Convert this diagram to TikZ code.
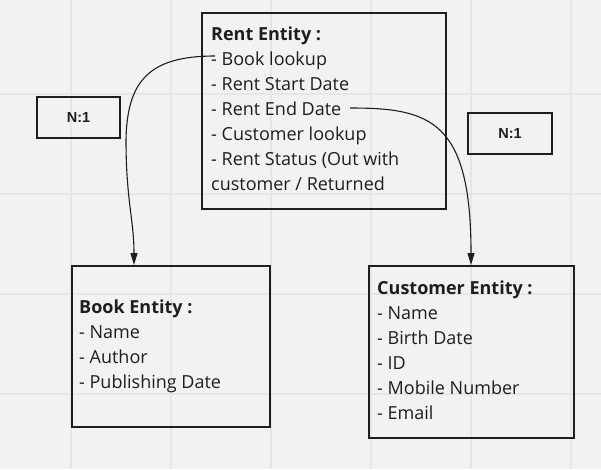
\documentclass[tikz,border=0pt]{standalone}
\usepackage{fontspec}
\setmainfont{Open Sans}
\newfontfamily\labelfont{Liberation Sans}
\usetikzlibrary{arrows.meta}
\definecolor{bgc}{HTML}{F2F2F2}
\definecolor{gridc}{HTML}{E6E6E6}
\definecolor{ink}{HTML}{1E1E1E}
\tikzset{
  entity/.style={draw=ink, line width=2pt, fill=none, inner sep=0pt, anchor=north west},
  cardbox/.style={draw=ink, line width=2pt, inner sep=0pt, anchor=north west},
  cardtext/.style={font=\labelfont\bfseries\fontsize{14.5}{16}\selectfont, text=ink, inner sep=0pt},
  body/.style={anchor=base west, inner sep=0pt, text=ink, font=\fontsize{18}{25}\selectfont},
  link/.style={draw=ink, line width=1.1pt, -{Triangle[length=12pt,width=7pt]}},
}
\newcommand{\entlines}[1]{\vtop{\baselineskip=25pt\lineskiplimit=-20pt #1}}
\begin{document}
\begin{tikzpicture}[x=1pt,y=-1pt]
\useasboundingbox (0,0) rectangle (601,469);
\fill[bgc] (0,0) rectangle (601,469);
% grid
\foreach \gx in {71,171,271,371,471,571} \draw[gridc, line width=1.5pt] (\gx,0) -- (\gx,469);
\foreach \gy in {94,194,294,394} \draw[gridc, line width=1.5pt] (0,\gy) -- (601,\gy);
% boxes
\node[entity, minimum width=244pt, minimum height=196pt] (rent) at (201,12) {};
\node[entity, minimum width=198pt, minimum height=161pt] (book) at (71,265) {};
\node[entity, minimum width=205pt, minimum height=172pt] (cust) at (368,265) {};
\node[cardbox, minimum width=83pt, minimum height=41pt] (c1) at (36,96) {};
\node[cardbox, minimum width=84pt, minimum height=41pt] (c2) at (467,112) {};
\node[cardtext] (c1t) at (c1.center) {N:1};
\node[cardtext] (c2t) at (c2.center) {N:1};
% texts
\node[body] (rentt) at (211,40) {\entlines{\hbox{\bfseries Rent Entity :}\hbox{- Book lookup}\hbox{- Rent Start Date}\hbox{- Rent End Date}\hbox{- Customer lookup}\hbox{- Rent Status (Out with}\hbox{customer / Returned}}};
\node[body] (bookt) at (79,313) {\entlines{\hbox{\bfseries Book Entity :}\hbox{- Name}\hbox{- Author}\hbox{- Publishing Date}}};
\node[body] (custt) at (377,294) {\entlines{\hbox{\bfseries Customer Entity :}\hbox{- Name}\hbox{- Birth Date}\hbox{- ID}\hbox{- Mobile Number}\hbox{- Email}}};
% connectors
\coordinate (s1) at (215,56);
\coordinate (m1) at (126,140);
\coordinate (e1) at (134,265);
\coordinate (s2) at (350,108);
\coordinate (e2) at (471,265);
\draw[link] (s1) .. controls (150,56) and (127,80) .. (m1) .. controls (126,200) and (134,220) .. (e1);
\draw[link] (s2) .. controls (430,108) and (471,120) .. (e2);
\end{tikzpicture}
\end{document}
